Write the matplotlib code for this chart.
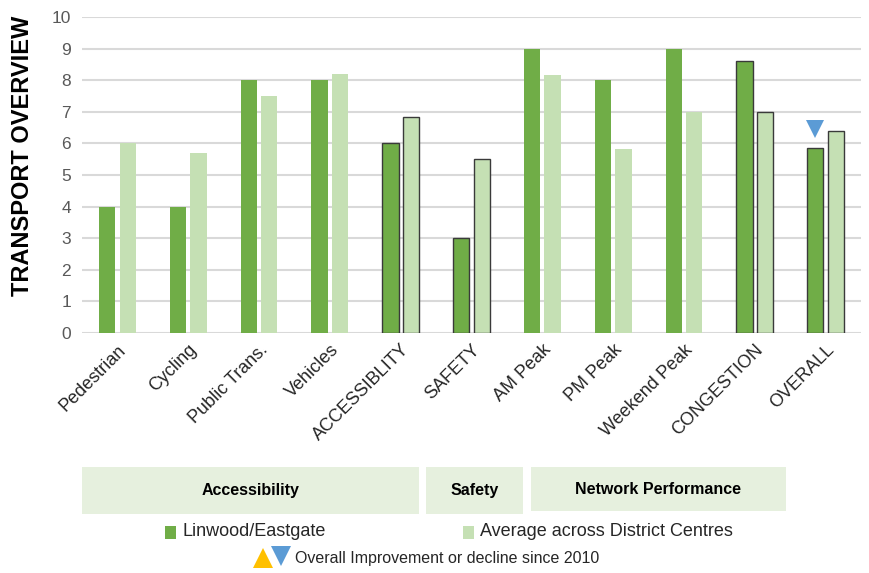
import numpy as np
import matplotlib
matplotlib.use('Agg')
import matplotlib.pyplot as plt
from matplotlib.patches import Rectangle

plt.rcParams['font.family'] = ['Liberation Sans', 'DejaVu Sans']

categories = ['Pedestrian', 'Cycling', 'Public Trans.', 'Vehicles', 'ACCESSIBLITY',
              'SAFETY', 'AM Peak', 'PM Peak', 'Weekend Peak', 'CONGESTION', 'OVERALL']
linwood = [4, 4, 8, 8, 6, 3, 9, 8, 9, 8.6, 5.87]
average = [6, 5.7, 7.5, 8.2, 6.83, 5.5, 8.17, 5.82, 7.0, 6.98, 6.4]
summary = ['ACCESSIBLITY', 'SAFETY', 'CONGESTION', 'OVERALL']
groups = ['Accessibility', 'Safety', 'Network Performance']

dark = '#70AD47'
light = '#C5E0B4'
W, H = 870, 573

fig = plt.figure(figsize=(8.7, 5.73), dpi=100)
ax = fig.add_axes([82/W, 1-333/H, (861-82)/W, (333-17)/H])

x = np.arange(len(categories))
bw = 0.23
for i, c in enumerate(categories):
    ec = '#3a3a3a' if c in summary else 'none'
    lw = 1.0 if c in summary else 0
    ax.bar(x[i]-0.145, linwood[i], bw, color=dark, edgecolor=ec, linewidth=lw, zorder=3)
    ax.bar(x[i]+0.145, average[i], bw, color=light, edgecolor=ec, linewidth=lw, zorder=3)

# decline marker on OVERALL
io = categories.index('OVERALL')
ax.plot(x[io]-0.145, linwood[io]+0.6, marker='v', color='#5B9BD5', markersize=13,
        markeredgewidth=0, zorder=4, clip_on=False)

ax.set_xlim(-0.5, len(categories)-0.5)
ax.set_ylim(0, 10)
ax.set_yticks(range(0, 11))
ax.yaxis.grid(True, color='#D9D9D9', linewidth=1.5, zorder=0)
for s in ax.spines.values():
    s.set_visible(False)
ax.tick_params(axis='both', length=0, labelsize=12.5, labelcolor='#595959', pad=8)
ax.set_xticks(x)
ax.set_xticklabels(categories, rotation=45, ha='right', rotation_mode='anchor',
                   fontsize=13, color='#262626')
ax.tick_params(axis='x', pad=6)
ax.set_ylabel('TRANSPORT OVERVIEW', fontsize=17, fontweight='bold', color='black')
ax.yaxis.set_label_coords(-0.062, 0.56)

# group boxes under the axis
boxes = [(82, 419, 467, 514), (426, 523, 467, 514), (531, 786, 467, 511)]
for (x0, x1, y0, y1), g in zip(boxes, groups):
    fig.add_artist(Rectangle((x0/W, 1-y1/H), (x1-x0)/W, (y1-y0)/H,
                             transform=fig.transFigure, facecolor='#E6F0DE', edgecolor='none'))
    fig.text((x0+x1)/2/W, 1-(y0+y1)/2/H, g, ha='center', va='center',
             fontsize=11.5, fontweight='bold', color='black')

# legend
fig.add_artist(Rectangle((165/W, 1-539/H), 11/W, 13/H, transform=fig.transFigure,
                         facecolor=dark, edgecolor='none'))
fig.text(183/W, 1-532/H, 'Linwood/Eastgate', ha='left', va='center', fontsize=13, color='#262626')
fig.add_artist(Rectangle((463/W, 1-539/H), 11/W, 13/H, transform=fig.transFigure,
                         facecolor=light, edgecolor='none'))
fig.text(480/W, 1-532/H, 'Average across District Centres', ha='left', va='center',
         fontsize=13, color='#262626')
fig.lines.append(plt.Line2D([263/W], [1-558/H], marker='^', color='#FFC000', markersize=15,
                            markeredgewidth=0, transform=fig.transFigure, figure=fig))
fig.lines.append(plt.Line2D([281/W], [1-556/H], marker='v', color='#5B9BD5', markersize=15,
                            markeredgewidth=0, transform=fig.transFigure, figure=fig))
fig.text(295/W, 1-559/H, 'Overall Improvement or decline since 2010', ha='left', va='center',
         fontsize=11.5, color='#262626')

fig.savefig('out.png', dpi=100, facecolor='white')
